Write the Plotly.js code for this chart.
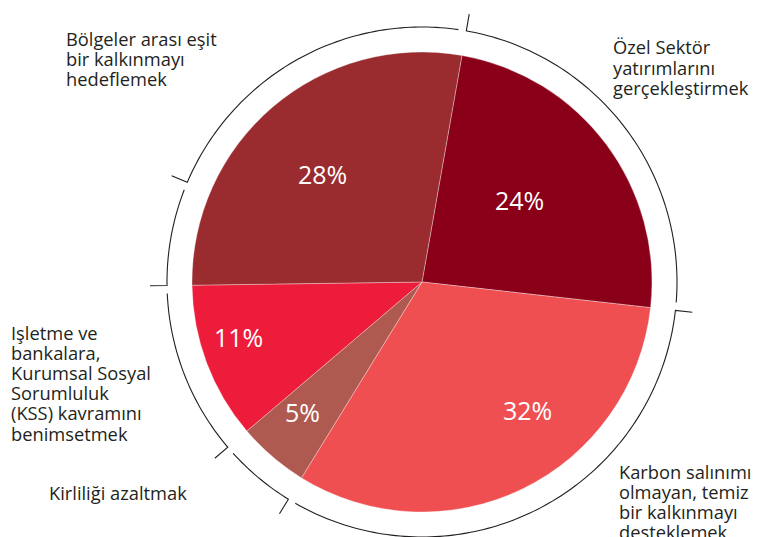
<!DOCTYPE html>
<html>
<head>
<meta charset="utf-8">
<script src="https://cdn.plot.ly/plotly-3.0.1.min.js"></script>
<style>html,body{margin:0;padding:0;background:#fff;}#chart{width:778px;height:537px;}</style>
</head>
<body>
<div id="chart"></div>
<script>
// Data (clockwise from the first slice)
const categories = [
  "Özel Sektör yatırımlarını gerçekleştirmek",
  "Karbon salınımı olmayan, temiz bir kalkınmayı desteklemek",
  "Kirliliği azaltmak",
  "Işletme ve bankalara, Kurumsal Sosyal Sorumluluk (KSS) kavramını benimsetmek",
  "Bölgeler arası eşit bir kalkınmayı hedeflemek"
];
const values = [24, 32, 5, 11, 28];
const sliceColors = ["#8A0019", "#EF4F51", "#AE5A50", "#ED1C3B", "#9A2C30"];
// Outside label lines, one list per slice
const labelLines = [
  ["Özel Sektör", "yatırımlarını", "gerçekleştirmek"],
  ["Karbon salınımı", "olmayan, temiz", "bir kalkınmayı", "desteklemek"],
  ["Kirliliği azaltmak"],
  ["Işletme ve", "bankalara,", "Kurumsal Sosyal", "Sorumluluk", "(KSS) kavramını", "benimsetmek"],
  ["Bölgeler arası eşit", "bir kalkınmayı", "hedeflemek"]
];

// Layout geometry (styling)
const W = 778, H = 537;
const cx = 422, cy = 282, pieR = 230;
const startAngle = 10;       // degrees clockwise from 12 o'clock
const ringR = 255, tickLen = 17, gapDeg = 1.8;
const extraBreaks = [293];   // decorative extra break in the outer ring
// text placement (pixels): percent label centres, outside label first-line centre
const pctPos = [[519, 200], [527, 410], [302, 412], [238, 337], [322, 174]];
const labelPos = [[611, 47], [617, 471], [47, 492], [9, 332], [64, 38]];
const lineGap = 20.2;

function pt(r, deg) {
  const a = deg * Math.PI / 180;
  const x = cx + r * Math.sin(a), y = cy - r * Math.cos(a);
  return [(x / W).toFixed(5), (1 - y / H).toFixed(5)];
}

// build ring segment boundaries from data
const total = values.reduce((a, b) => a + b, 0);
let bounds = [];
let acc = startAngle;
for (const v of values) { bounds.push(acc); acc += 360 * v / total; }
bounds = bounds.concat(extraBreaks).sort((a, b) => a - b);
const shapes = [];
for (let i = 0; i < bounds.length; i++) {
  const a0 = bounds[i];
  const a1 = (i + 1 < bounds.length ? bounds[i + 1] : bounds[0] + 360) - gapDeg;
  let p = pt(ringR + tickLen, a0);
  let d = "M" + p[0] + "," + p[1];
  const n = Math.max(8, Math.ceil((a1 - a0) / 1));
  for (let k = 0; k <= n; k++) {
    const q = pt(ringR, a0 + (a1 - a0) * k / n);
    d += " L" + q[0] + "," + q[1];
  }
  shapes.push({type: "path", xref: "paper", yref: "paper", path: d,
    line: {color: "#231f20", width: 1.1}});
}

const trace = {
  type: "pie",
  labels: categories,
  values: values,
  sort: false,
  direction: "clockwise",
  rotation: startAngle,
  marker: {colors: sliceColors, line: {color: "rgba(255,255,255,0.55)", width: 0.6}},
  textinfo: "none",
  hoverinfo: "label+percent",
  showlegend: false,
  domain: {x: [(cx - pieR) / W, (cx + pieR) / W], y: [1 - (cy + pieR) / H, 1 - (cy - pieR) / H]}
};

const annotations = [];
const pctFont = {family: "Open Sans, Noto Sans, sans-serif", size: 25, color: "#ffffff"};
const labelFont = {family: "Open Sans, Noto Sans, sans-serif", size: 18.3, color: "#231f20"};
values.forEach((v, i) => {
  annotations.push({text: Math.round(100 * v / total) + "%", xref: "paper", yref: "paper",
    x: pctPos[i][0] / W, y: 1 - pctPos[i][1] / H, xanchor: "center", yanchor: "middle",
    showarrow: false, font: pctFont});
  labelLines[i].forEach((line, k) => {
    annotations.push({text: line, xref: "paper", yref: "paper",
      x: labelPos[i][0] / W, y: 1 - (labelPos[i][1] + k * lineGap) / H,
      xanchor: "left", yanchor: "middle", align: "left", showarrow: false, font: labelFont});
  });
});

Plotly.newPlot("chart", [trace], {
  width: W, height: H,
  margin: {l: 0, r: 0, t: 0, b: 0},
  paper_bgcolor: "#ffffff",
  shapes: shapes,
  annotations: annotations,
  showlegend: false
}, {displayModeBar: false, staticPlot: true});
</script>
</body>
</html>
